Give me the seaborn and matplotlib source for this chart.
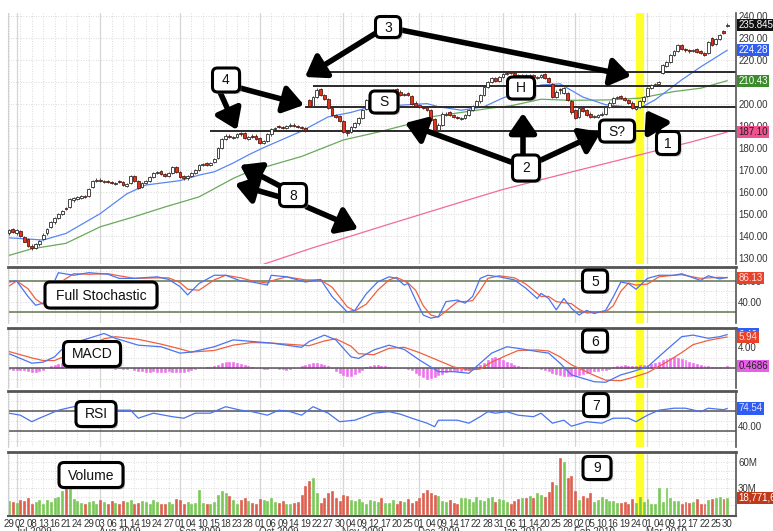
import matplotlib
matplotlib.use('Agg')
import matplotlib.pyplot as plt
import matplotlib.transforms as mtransforms
from matplotlib.patches import FancyBboxPatch
import seaborn as sns
import numpy as np
import pandas as pd

# ---- trading days on the chart ----
holidays = ['2009-07-03', '2009-09-07', '2009-11-26', '2009-12-25',
            '2010-01-01', '2010-01-18', '2010-02-15']
days = pd.bdate_range('2009-06-29', '2010-03-30')
days = days[~days.isin(pd.to_datetime(holidays))]

tick_dates = ['2009-06-29', '2009-07-02', '2009-07-08', '2009-07-13', '2009-07-16', '2009-07-21', '2009-07-24', '2009-07-29',
              '2009-08-03', '2009-08-06', '2009-08-11', '2009-08-14', '2009-08-19', '2009-08-24', '2009-08-27',
              '2009-09-01', '2009-09-04', '2009-09-10', '2009-09-15', '2009-09-18', '2009-09-23', '2009-09-28',
              '2009-10-01', '2009-10-06', '2009-10-09', '2009-10-14', '2009-10-19', '2009-10-22', '2009-10-27', '2009-10-30',
              '2009-11-04', '2009-11-09', '2009-11-12', '2009-11-17', '2009-11-20', '2009-11-25',
              '2009-12-01', '2009-12-04', '2009-12-09', '2009-12-14', '2009-12-17', '2009-12-22', '2009-12-28', '2009-12-31',
              '2010-01-06', '2010-01-11', '2010-01-14', '2010-01-20', '2010-01-25', '2010-01-28',
              '2010-02-02', '2010-02-05', '2010-02-10', '2010-02-16', '2010-02-19', '2010-02-24',
              '2010-03-01', '2010-03-04', '2010-03-09', '2010-03-12', '2010-03-17', '2010-03-22', '2010-03-25', '2010-03-30']
month_names = ['Jul 2009', 'Aug 2009', 'Sep 2009', 'Oct 2009', 'Nov 2009',
               'Dec 2009', 'Jan 2010', 'Feb 2010', 'Mar 2010']

# ---- daily prices (open / high / low / close) ----
price_open = [
    141, 143, 141, 142, 139.5, 138.5, 135.5, 134.5, 136, 138.5,
    141, 144, 146, 148, 150, 152.5, 153, 156, 156.5, 157,
    158, 158, 162, 165, 165.5, 164.5, 165, 164.5, 163.5, 165,
    164.5, 162.5, 164, 167, 165, 162, 164, 165, 166.5, 168.5,
    169.5, 168, 167, 168.5, 171, 169, 167, 166, 167, 168.5,
    170, 172, 173, 172, 173.5, 175.5, 180, 184, 185.5, 184.5,
    185, 186.5, 186.5, 184, 185.5, 185.5, 184.5, 182, 183, 186,
    188.5, 190, 189.5, 189, 190, 190.5, 190, 189.5, 189, 201.5,
    199, 203, 206.5, 204, 202, 198, 195, 194.5, 192, 187,
    187, 189.5, 191, 193.5, 197.5, 201.5, 204, 204.5, 205.5, 204,
    204.5, 205, 206.5, 205.5, 204, 205, 203.5, 200.5, 199.5, 198.5,
    198.5, 197, 193, 188, 190.5, 195, 196, 195, 194, 193,
    193.5, 195, 197, 199, 201, 204, 207.5, 210, 211.5, 210.5,
    212, 213.5, 214.5, 214, 213, 212, 213, 212, 213, 211.5,
    212, 213.5, 211.5, 209, 203, 206.5, 205, 205, 201, 197,
    194, 198, 197, 195.5, 194, 194, 195, 195.5, 198.5, 200.5,
    202.5, 203.5, 202.5, 201.5, 200.5, 197.5, 198.5, 201, 203.5, 207,
    208.5, 209, 214, 217, 219, 222, 224, 226.5, 225, 224.5,
    224, 225, 224, 223, 223, 230, 227, 229.5, 233, 235.5]
price_high = [
    143, 143.5, 143, 142.5, 140, 139, 136, 136.5, 138, 141,
    143.5, 146.5, 148.5, 150.5, 151.5, 153, 157, 157.5, 158, 158.5,
    158.5, 161.5, 165.5, 166, 166, 165.5, 165.5, 165, 164.5, 165.5,
    165, 164, 167.5, 167.5, 165.5, 164.5, 165.5, 167, 169, 169.5,
    170, 168.5, 169, 171.5, 171.5, 169.5, 167.5, 167.5, 169, 170.5,
    172.5, 173, 173.5, 173.5, 175.5, 180.5, 184.5, 186, 186, 185.5,
    186.5, 187, 187, 185.5, 186, 186, 185, 183.5, 186.5, 189,
    189.5, 190.5, 190, 190.5, 191, 191, 190.5, 190, 189.5, 202,
    203.5, 207, 207, 204.5, 202.5, 198.5, 195.5, 195, 192.5, 188,
    190, 191.5, 194, 197.5, 202, 204.5, 205, 205.5, 206, 205,
    205.5, 206.5, 207, 206, 205, 205.5, 204, 201, 200, 199,
    199, 197.5, 193.5, 191, 196, 196, 196.5, 195.5, 194.5, 194,
    195.5, 197.5, 199.5, 201.5, 204.5, 208, 210.5, 212, 212, 212.5,
    214, 214.5, 215, 214.5, 213.5, 213.5, 213.5, 213.5, 213.5, 212.5,
    213.5, 214, 212, 209.5, 206, 207, 207.5, 205.5, 201.5, 197.5,
    198.5, 198.5, 197.5, 196, 195, 195.5, 196, 199, 201, 203,
    203.5, 204, 203, 202, 201, 199, 201.5, 203.5, 207.5, 209,
    209.5, 210.5, 218, 219.5, 222.5, 224.5, 227, 227, 225.5, 225,
    225, 225.5, 224.5, 223.5, 228.5, 230.5, 230, 231.5, 233.5, 236.5]
price_low = [
    140.5, 141, 140.5, 139.5, 137, 135, 133.5, 134, 135.5, 138,
    140.5, 143.5, 145.5, 147.5, 149.5, 151.5, 152.5, 155.5, 156, 156.5,
    157, 157.5, 161.5, 164.5, 164.5, 164, 164, 163.5, 163, 164,
    162.5, 162, 163.5, 164.5, 161, 161.5, 163.5, 164.5, 166, 168,
    167.5, 166.5, 166.5, 168, 168.5, 166, 165.5, 165.5, 166.5, 168,
    169.5, 171.5, 171.5, 171.5, 173, 175, 179.5, 183.5, 184.5, 184,
    184.5, 185.5, 184, 183.5, 184.5, 183.5, 181.5, 181.5, 182.5, 185.5,
    188, 189, 188.5, 188.5, 189.5, 189.5, 189, 188.5, 187, 198.5,
    198.5, 202.5, 203.5, 201.5, 197.5, 194.5, 193.5, 191.5, 186.5, 185.5,
    186.5, 189, 190.5, 193, 197, 201, 203.5, 204, 203.5, 203.5,
    204, 204.5, 205, 203.5, 203.5, 203.5, 199.5, 198.5, 198, 197.5,
    196.5, 192, 187.5, 187.5, 190, 194.5, 194.5, 193.5, 193, 192.5,
    193, 194.5, 196.5, 198.5, 200.5, 203.5, 207, 209.5, 210, 210,
    211.5, 213, 213.5, 212.5, 211.5, 211.5, 212, 211.5, 211.5, 211,
    211.5, 211, 209.5, 202.5, 202.5, 204.5, 204.5, 201, 195.5, 193,
    193.5, 196, 194.5, 193.5, 193.5, 193.5, 194.5, 195, 198, 200,
    202, 202, 201, 200, 197.5, 197, 198, 200.5, 203, 206.5,
    208, 208.5, 213.5, 216.5, 218.5, 221.5, 223.5, 224.5, 223.5, 223,
    223.5, 223, 222.5, 221.5, 222.5, 226, 226.5, 229, 231.5, 235]
price_close = [
    142.5, 141.5, 142.5, 140, 137, 135.5, 134.5, 136, 137.5, 140.5,
    143, 146, 148, 150, 151, 152, 156.5, 157, 157.5, 158,
    157.5, 161, 165, 165.5, 165, 165, 164.5, 164, 164, 164.5,
    163, 163.5, 167, 165, 161.5, 164, 165, 166.5, 168.5, 169,
    168, 167, 168.5, 171, 169, 166.5, 166, 167, 168.5, 170,
    172, 172.5, 172, 173, 175, 180, 184, 185.5, 185, 185,
    186, 186, 184.5, 185, 185, 184, 182, 183, 186, 188.5,
    189, 189.5, 189, 190, 190.5, 190, 189.5, 189, 188, 199,
    203, 206, 204, 202, 198, 195, 194, 192, 187, 186.5,
    189.5, 191, 193.5, 197, 201.5, 204, 204.5, 205, 204, 204.5,
    205, 206, 205.5, 204, 204.5, 204, 200, 199, 198.5, 198,
    197, 192.5, 188, 190.5, 195.5, 195.5, 195, 194, 193.5, 193.5,
    195, 197, 199, 201, 204, 207.5, 210, 211.5, 210.5, 212,
    213.5, 214, 214, 213, 212, 213, 212.5, 213, 212, 212,
    213, 211.5, 210, 203, 205.5, 206, 207, 201.5, 196, 193.5,
    198, 196.5, 195, 194, 194.5, 195, 195.5, 198.5, 200.5, 202.5,
    203, 202.5, 201.5, 200.5, 198, 198.5, 201, 203, 207, 208.5,
    209, 210, 217.5, 219, 222, 224, 226.5, 225, 224.5, 224,
    224.5, 223.5, 223, 222, 228, 226.5, 229.5, 231, 232, 235.8]

# moving averages (day index, value)
sma20_day = [0, 9, 15, 24, 31, 36, 45, 50, 54, 59, 63, 67, 77, 84, 90, 95, 105, 110, 113,
             119, 125, 130, 140, 145, 151, 157, 166, 170, 177, 182, 189]
sma20_val = [139, 138, 141, 150, 159, 163, 165, 167.5, 169, 173, 176.7, 180, 187.5, 194, 196,
             198.5, 199.5, 200, 198.6, 197, 198.6, 202.6, 208.5, 209, 203, 199.5, 198, 201.7,
             210.8, 216.7, 224.28]
sma50_day = [0, 6, 15, 24, 33, 41, 50, 59, 64, 66, 77, 88, 97, 106, 111, 119, 127, 132,
             140, 148, 158, 166, 175, 182, 189]
sma50_val = [131, 134, 136.5, 144, 148.6, 153, 157.6, 166, 169.8, 170.5, 176, 183.5, 187,
             191, 194, 196, 198, 199, 202, 201.5, 201.7, 202.5, 205.5, 207, 210.43]
sma200_day = [67, 80, 90, 100, 110, 120, 130, 140, 150, 160, 170, 180, 189]
sma200_val = [127, 134.5, 139.8, 145.2, 150.5, 155.8, 161, 165.4, 169.8, 174.1, 178.5, 182.8, 187.1]

# drawn support / resistance levels and the day each starts
level_price = [187.6, 198.5, 208, 214.3]
level_start = [53, 78, 80, 80]
marker_day = 166

# full stochastic
stoch_day = [0, 2, 5, 7, 9, 12, 13, 17, 21, 26, 29, 33, 39, 42, 45, 47, 50, 54, 57, 61, 64, 68,
             69, 73, 78, 82, 85, 89, 91, 94, 97, 100, 102, 104, 105, 107, 109, 111, 113, 115,
             118, 120, 122, 124, 126, 129, 133, 136, 139, 140, 142, 144, 146, 148, 150, 152,
             154, 157, 159, 161, 163, 165, 168, 171, 175, 177, 182, 184, 187, 189]
stoch_k = [78, 80, 50, 33, 37, 80, 96, 91, 96, 93, 85, 85, 88, 83, 69, 53, 75, 91, 91, 80, 78, 72,
           91, 88, 78, 83, 50, 20, 23, 55, 78, 88, 85, 72, 75, 43, 14, 8, 11, 40,
           43, 37, 50, 85, 91, 88, 82, 66, 46, 56, 46, 24, 46, 27, 14, 23,
           17, 23, 49, 78, 75, 64, 85, 91, 91, 94, 81, 90, 84, 87]
stoch_d = [70, 80, 65, 45, 35, 60, 75, 94, 93, 94, 90, 85, 86, 86, 77, 64, 62, 82, 91, 86, 80, 76,
           80, 88, 82, 82, 68, 30, 22, 35, 62, 82, 87, 80, 76, 62, 32, 14, 10, 22,
           40, 40, 42, 62, 85, 90, 86, 74, 56, 50, 50, 40, 38, 36, 25, 18,
           19, 20, 32, 60, 76, 72, 74, 88, 91, 92, 85, 86, 87, 86.13]

# MACD
macd_day = [0, 6, 9, 12, 15, 21, 25, 28, 34, 40, 45, 48, 54, 59, 64, 69, 77, 79, 83, 86, 90, 92,
            96, 100, 104, 108, 113, 117, 121, 124, 127, 131, 134, 139, 142, 145, 148, 154,
            157, 161, 164, 168, 173, 177, 180, 184, 187, 189]
macd_line = [2.8, 1.0, 1.2, 2.2, 4.4, 5.7, 6.6, 5.7, 4.4, 4.1, 2.9, 3.1, 4.1, 5.4, 5.1, 4.8, 4.0,
             5.1, 6.3, 5.4, 2.2, 1.9, 3.5, 4.4, 3.6, 1.6, -0.6, -0.6, -0.9, 1.0, 2.9, 4.1, 3.8,
             3.2, 2.9, 1.0, -1.2, -2.5, -2.6, -1.2, -0.6, 0.3, 3.5, 6.0, 6.3, 5.7, 6.0, 6.4]
macd_signal = [3.2, 2.0, 1.5, 1.5, 2.4, 4.2, 5.6, 6.0, 5.5, 4.6, 3.7, 3.1, 3.4, 4.4, 4.9, 4.8, 4.4,
               4.3, 5.2, 5.6, 4.2, 2.8, 2.6, 3.8, 4.0, 3.0, 1.5, 0.3, -0.3, -0.1, 1.2, 2.5, 3.4,
               3.5, 3.3, 2.2, 0.7, -1.3, -2.2, -2.3, -1.7, -0.8, 1.2, 3.0, 4.5, 5.3, 5.7, 5.94]
macd_hist = [
    -0.1, -0.2, -0.2, -0.3, -0.3, -0.5, -0.6, -0.6, -0.5, -0.3,
    0.1, 0.4, 0.7, 0.9, 1.0, 0.9, 0.8, 0.6, 0.4, 0.3,
    0.2, 0.1, 0.2, 0.2, 0.1, 0.1, 0, 0, -0.1, 0,
    -0.1, -0.1, 0, -0.3, -0.4, -0.5, -0.6, -0.6, -0.5, -0.6,
    -0.7, -0.6, -0.5, -0.6, -0.7, -0.7, -0.6, -0.4, -0.2, -0.1,
    0, 0.1, 0.2, 0.3, 0.4, 0.7, 1.0, 1.2, 1.3, 1.3,
    1.1, 0.9, 0.7, 0.5, 0.3, 0.1, 0, -0.1, -0.1, 0,
    0, -0.1, -0.1, -0.2, -0.1, 0, 0.1, 0.4, 0.6, 0.9,
    1.1, 1.0, 0.9, 0.7, 0.4, 0.1, -0.5, -0.9, -1.3, -1.5,
    -1.4, -1.1, -0.7, -0.3, 0.2, 0.4, 0.6, 0.6, 0.5, 0.4,
    0.2, 0.1, 0, 0.1, 0, -0.1, -0.2, -0.8, -1.2, -1.6,
    -1.9, -1.8, -1.6, -1.3, -1.0, -0.7, -0.5, -0.4, -0.5, -0.4,
    -0.3, -0.2, -0.1, 0.2, 0.6, 1.1, 1.6, 1.9, 2.1, 1.9,
    1.6, 1.3, 1.0, 0.7, 0.5, 0.3, 0.2, 0.1, 0.1, 0,
    -0.1, -0.2, -0.5, -0.8, -1.0, -1.2, -1.4, -1.5, -1.5, -1.4,
    -1.2, -1.0, -0.8, -0.6, -0.5, -0.4, -0.3, -0.2, -0.1, 0.3,
    0.4, 0.5, 0.6, 0.5, 0.4, 0.5, 0.6, 0.6, 0.7, 0.9,
    1.1, 1.3, 1.6, 1.8, 2.0, 2.1, 2.0, 1.8, 1.6, 1.3,
    1.0, 0.8, 0.6, 0.5, 0.4, 0.3, 0.2, 0.3, 0.2, 0.47]

# RSI
rsi_day = [0, 3, 6, 8, 13, 17, 24, 27, 32, 34, 38, 43, 46, 49, 53, 57, 61, 64, 68, 71, 74, 77,
           80, 84, 87, 91, 96, 100, 103, 106, 110, 112, 113, 118, 121, 124, 126, 128, 131,
           134, 138, 140, 143, 146, 148, 152, 156, 159, 163, 165, 168, 171, 175, 178, 182,
           184, 188, 189]
rsi_val = [65, 61, 48, 55, 71, 78, 78, 71, 71, 55, 65, 58, 55, 65, 65, 78, 71, 68, 61, 71, 68, 61,
           78, 65, 48, 51, 65, 68, 63, 55, 45, 38, 51, 51, 45, 58, 68, 65, 68,
           61, 58, 65, 45, 51, 39, 48, 45, 55, 55, 48, 61, 71, 75, 75, 68,
           75, 72, 74.54]

# volume (millions)
volume = [
    15, 14, 13, 16, 15, 18, 12, 14, 16, 12,
    16, 14, 18, 20, 26, 33, 33, 17, 15, 13,
    12, 14, 15, 12, 16, 14, 12, 15, 13, 11,
    15, 14, 16, 11, 13, 15, 14, 12, 16, 14,
    12, 11, 14, 12, 17, 16, 12, 14, 11, 13,
    28, 13, 12, 11, 14, 22, 27, 24, 21, 16,
    12, 16, 18, 15, 13, 12, 17, 16, 15, 18,
    14, 13, 15, 12, 11, 13, 14, 22, 32, 38,
    41, 24, 13, 18, 24, 26, 19, 15, 22, 21,
    16, 15, 17, 14, 12, 16, 15, 14, 19, 13,
    13, 16, 12, 15, 14, 17, 13, 15, 18, 24,
    28, 24, 22, 21, 15, 14, 16, 13, 12, 18,
    19, 17, 14, 20, 16, 15, 18, 20, 14, 17,
    16, 14, 12, 15, 17, 19, 18, 21, 18, 24,
    22, 20, 25, 37, 33, 65, 60, 42, 44, 27,
    16, 21, 19, 24, 14, 16, 20, 17, 15, 15,
    13, 13, 14, 12, 17, 13, 20, 14, 17, 11,
    11, 30, 14, 30, 19, 15, 15, 12, 14, 13,
    14, 17, 11, 12, 16, 17, 18, 20, 17, 18.77]

# ---- figure ----
sns.set_style('white')
plt.rcParams['font.family'] = ['Liberation Sans Narrow', 'Liberation Sans', 'DejaVu Sans']

W, H = 773, 531
fig = plt.figure(figsize=(W / 100, H / 100), dpi=100)
fig.patch.set_facecolor('white')


def panel(top, bottom):
    return fig.add_axes([8 / W, 1 - bottom / H, (736 - 8) / W, (bottom - top) / H])


ax_p = panel(13, 264)
ax_s = panel(267, 323)
ax_m = panel(328, 388)
ax_r = panel(391, 447)
ax_v = panel(452, 516)
axes = [ax_p, ax_s, ax_m, ax_r, ax_v]

idx = np.arange(len(days))
tick_idx = days.get_indexer(pd.to_datetime(tick_dates))
month_idx = np.flatnonzero(np.r_[True, days.month[1:] != days.month[:-1]])[1:]

ylims = [(127.1, 241.2), (-1.4, 107), (-3.68, 7.64), (-2.6, 109.4), (-2.3, 71.5)]
hgrid = [np.arange(130, 241, 10), [20, 40, 60, 80, 100], [-2, 0, 2, 4, 6],
         [10, 30, 50, 70, 90], [10, 20, 30, 40, 50, 60]]
for ax, yl, hg in zip(axes, ylims, hgrid):
    ax.set_xlim(-0.26, 191.3)
    ax.set_ylim(*yl)
    for t in tick_idx:
        ax.axvline(t, color='#cfcfcf', lw=0.6, ls=(0, (1, 2)), zorder=0.5)
    for m in month_idx:
        ax.axvline(m, color='#d6d6d6', lw=0.9, zorder=0.6)
    for g in hg:
        ax.axhline(g, color='#cfcfcf', lw=0.6, ls=(0, (1, 2)), zorder=0.5)
    ax.axvline(marker_day, color='#ffff2e', lw=6, zorder=0.8)
    ax.yaxis.tick_right()
    ax.tick_params(axis='y', length=0, pad=1.5, labelsize=7, labelcolor='#333333')
    ax.tick_params(axis='x', length=0, labelbottom=False)
    ax.set_xticks([])
    for s in ['top', 'bottom', 'left', 'right']:
        ax.spines[s].set_visible(True)
    ax.spines['right'].set_color('#555555')
    ax.spines['right'].set_linewidth(1.2)
    ax.spines['left'].set_color('#d0d0d0')
    ax.spines['left'].set_linewidth(0.8)
    ax.spines['top'].set_color('#555555')
    ax.spines['top'].set_linewidth(2)
    ax.spines['bottom'].set_visible(False)
ax_p.spines['top'].set_visible(False)
ax_v.spines['bottom'].set_visible(True)
ax_v.spines['bottom'].set_color('#555555')
ax_v.spines['bottom'].set_linewidth(1.5)

# ---- price panel ----
o = np.array(price_open)
c = np.array(price_close)
hi = np.maximum(np.array(price_high), np.maximum(o, c))
lo = np.minimum(np.array(price_low), np.minimum(o, c))
up = c >= o
body_bot = np.minimum(o, c)
body_h = np.maximum(np.abs(c - o), 0.35)

sns.lineplot(x=sma200_day, y=sma200_val, ax=ax_p, color='#f26a9c', lw=0.9, zorder=2)
sns.lineplot(x=sma50_day, y=sma50_val, ax=ax_p, color='#69a95a', lw=0.9, zorder=2)
sns.lineplot(x=sma20_day, y=sma20_val, ax=ax_p, color='#5a86f2', lw=0.9, zorder=2)
ax_p.hlines(level_price, level_start, 191.3, color='#2a2a2a', lw=1.4, zorder=2.5)
ax_p.vlines(idx, lo, hi, color='#333333', lw=0.6, zorder=3)
ax_p.bar(idx[up], body_h[up], bottom=body_bot[up], width=0.75, color='white',
         edgecolor='#2a2a2a', linewidth=0.6, zorder=4)
ax_p.bar(idx[~up], body_h[~up], bottom=body_bot[~up], width=0.75, color='#e2331f',
         edgecolor='#5c1a10', linewidth=0.6, zorder=4)
ax_p.set_yticks(np.arange(130, 241, 10))
ax_p.set_yticklabels(['%.2f' % v for v in np.arange(130, 241, 10)])

# ---- stochastic ----
ax_s.axhline(80, color='#7a8a6c', lw=1.3, zorder=1)
ax_s.axhline(20, color='#7a8a6c', lw=1.3, zorder=1)
sns.lineplot(x=stoch_day, y=stoch_d, ax=ax_s, color='#f0603e', lw=0.9, zorder=2)
sns.lineplot(x=stoch_day, y=stoch_k, ax=ax_s, color='#4a74f0', lw=0.9, zorder=2.1)
ax_s.set_yticks([40, 80])
ax_s.set_yticklabels(['40.00', '80.00'])

# ---- MACD ----
ax_m.bar(idx, macd_hist, width=0.5, color='#ee70ee', edgecolor='#ee70ee',
         linewidth=0.4, zorder=1.5)
ax_m.axhline(0, color='#555555', lw=1.1, zorder=1.6)
sns.lineplot(x=macd_day, y=macd_signal, ax=ax_m, color='#f0603e', lw=0.9, zorder=2)
sns.lineplot(x=macd_day, y=macd_line, ax=ax_m, color='#4a74f0', lw=0.9, zorder=2.1)
ax_m.set_yticks([0, 4])
ax_m.set_yticklabels(['0.00', '4.00'])

# ---- RSI ----
ax_r.axhline(70, color='#555555', lw=1.1, zorder=1)
ax_r.axhline(30, color='#555555', lw=1.1, zorder=1)
sns.lineplot(x=rsi_day, y=rsi_val, ax=ax_r, color='#4a74f0', lw=0.9, zorder=2)
ax_r.set_yticks([40])
ax_r.set_yticklabels(['40.00'])

# ---- volume ----
vol_col = np.where(up, '#78c956', '#de5f4e')
ax_v.bar(idx, volume, width=0.5, color=vol_col, edgecolor=vol_col, linewidth=0.45, zorder=2)
ax_v.set_yticks([30, 60])
ax_v.set_yticklabels(['30M', '60M'])
ax_v.set_xticks(tick_idx)
ax_v.set_xticklabels(['%02d' % d.day for d in pd.to_datetime(tick_dates)])
ax_v.tick_params(axis='x', labelbottom=True, length=0, pad=2, labelsize=7, labelcolor='#333333')
mtrans = mtransforms.offset_copy(ax_v.get_xaxis_transform(), fig=fig, y=-11, units='dots')
for m, name in zip(month_idx, month_names):
    ax_v.text(m - 0.3, 0, name, transform=mtrans, fontsize=7, color='#333333',
              ha='left', va='top', clip_on=False)

for ax in axes:
    for lbl in ax.get_yticklabels():
        lbl.set_fontsize(7)


# ---- right-hand value flags ----
def flag(ax, val, text, bg, fg):
    tr = mtransforms.blended_transform_factory(ax.transAxes, ax.transData)
    ax.text(1.0 + 2.5 / 728, val, text, transform=tr, fontsize=7, color=fg, ha='left',
            va='center', clip_on=False, zorder=10,
            bbox=dict(boxstyle='square,pad=0.12', fc=bg, ec='none'))


flag(ax_p, 235.845, '235.845', '#111111', 'white')
flag(ax_p, 224.28, '224.28', '#2f5cf5', 'white')
flag(ax_p, 210.43, '210.43', '#3c8c2c', 'white')
flag(ax_p, 187.10, '187.10', '#ee5290', '#222222')
flag(ax_s, 86.13, '86.13', '#e8432a', '#ffdede')
flag(ax_m, 6.4, '6.40', '#2f5cf5', 'white')
flag(ax_m, 5.94, '5.94', '#e8432a', '#ffdede')
flag(ax_m, 0.4686, '0.4686', '#e860e8', '#222222')
flag(ax_r, 74.54, '74.54', '#2f5cf5', '#dfe6ff')
flag(ax_v, 18.77, '18,771,69', '#c0391b', 'white')

# ---- call-outs ----
ov = fig.add_axes([0, 0, 1, 1], zorder=20)
ov.set_xlim(0, W)
ov.set_ylim(H, 0)
ov.axis('off')
ov.patch.set_alpha(0)

callouts = [
    (388, 27, 25, 21, '3'), (226, 80, 27, 24, '4'), (384, 102, 28, 22, 'S'),
    (521, 88, 27, 22, 'H'), (526, 168, 27, 26, '2'), (617, 131, 35, 22, 'S?'),
    (668, 143, 23, 23, '1'), (293, 195, 27, 23, '8'),
    (595, 281, 25, 22, '5'), (595, 341, 25, 22, '6'), (596, 405, 25, 23, '7'),
    (597, 468, 28, 23, '9'),
    (101, 295, 112, 26, 'Full Stochastic'), (92, 354, 57, 25, 'MACD'),
    (96, 414, 40, 25, 'RSI'), (91, 475, 64, 25, 'Volume'),
]
arrows = [
    ((376, 33), (305, 77)), ((401, 30), (631, 76)),
    ((220, 92), (237, 130)), ((240, 88), (304, 105)),
    ((523, 154), (523, 113)), ((511, 162), (405, 123)), ((541, 160), (601, 132)),
    ((660, 133), (646, 110)),
    ((280, 186), (240, 165)), ((280, 197), (235, 184)), ((307, 207), (358, 229)),
]
for tail, head in arrows:
    ov.annotate('', xy=head, xytext=tail,
                arrowprops=dict(arrowstyle='-|>,head_length=0.8,head_width=0.55', lw=4,
                                color='black', shrinkA=0, shrinkB=0, mutation_scale=15))
for cx, cy, w, h, txt in callouts:
    ov.add_patch(FancyBboxPatch((cx - w / 2 + 2, cy - h / 2 + 2), w, h,
                                boxstyle='round,pad=0,rounding_size=5',
                                fc='#888888', ec='none', alpha=0.55, zorder=3))
    ov.add_patch(FancyBboxPatch((cx - w / 2, cy - h / 2), w, h,
                                boxstyle='round,pad=0,rounding_size=5',
                                fc='white', ec='black', lw=2.2, zorder=4))
    ov.text(cx, cy + 0.5, txt, ha='center', va='center', fontsize=10, color='#111111',
            family=['Liberation Sans', 'DejaVu Sans'], zorder=5)

fig.savefig('out.png', dpi=100)
